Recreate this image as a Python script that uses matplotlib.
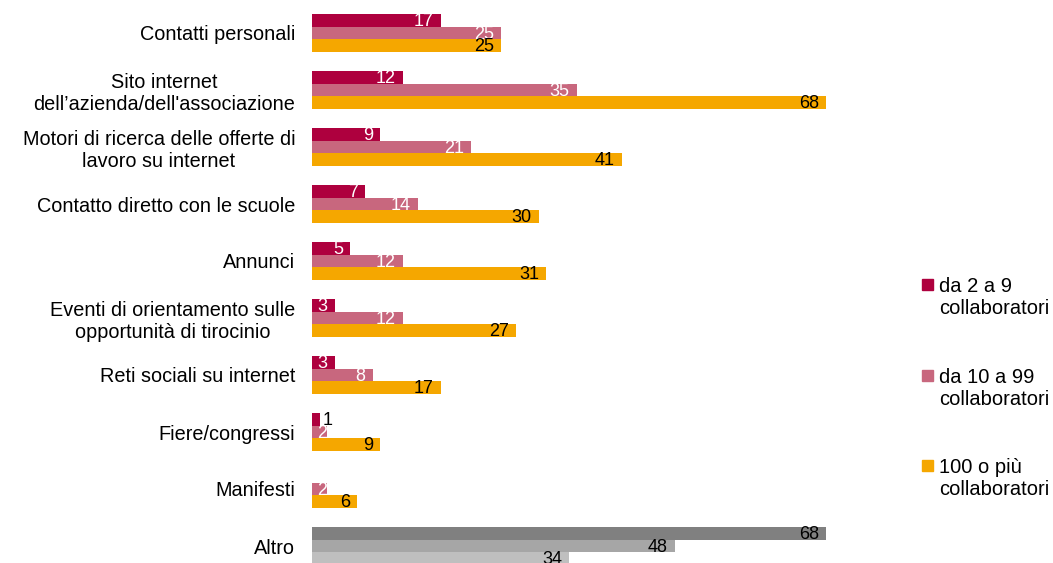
import matplotlib.pyplot as plt
from matplotlib.patches import Rectangle
import numpy as np

plt.rcParams['font.family'] = ['Liberation Sans', 'DejaVu Sans']

categories = [
    'Contatti personali',
    "Sito internet\ndell\u2019azienda/dell'associazione",
    'Motori di ricerca delle offerte di\nlavoro su internet',
    'Contatto diretto con le scuole',
    'Annunci',
    'Eventi di orientamento sulle\nopportunità di tirocinio',
    'Reti sociali su internet',
    'Fiere/congressi',
    'Manifesti',
    'Altro',
]
series_names = ['da 2 a 9\ncollaboratori', 'da 10 a 99\ncollaboratori', '100 o più\ncollaboratori']
small = [17, 12, 9, 7, 5, 3, 3, 1, 0, 68]
medium = [25, 35, 21, 14, 12, 12, 8, 2, 2, 48]
large = [25, 68, 41, 30, 31, 27, 17, 9, 6, 34]

colors = ['#ae003e', '#c8677e', '#f5a700']
altro_colors = ['#808080', '#a6a6a6', '#bfbfbf']
text_colors = ['white', 'white', 'black']

fig = plt.figure(figsize=(10.53, 5.63), dpi=100)
ax = fig.add_axes([312 / 1053, 0, 605 / 1053, 1])

y = np.arange(len(categories))
h = 0.22
for j, vals in enumerate([small, medium, large]):
    yy = y + (j - 1) * h
    cols = [colors[j]] * (len(vals) - 1) + [altro_colors[j]]
    ax.barh(yy, vals, height=h, color=cols)
    for k, (v, yk) in enumerate(zip(vals, yy)):
        if v == 0:
            continue
        tc = 'black' if k == len(vals) - 1 else text_colors[j]
        if v < 2:
            # too small: label sits just outside the bar
            ax.annotate(str(v), (v, yk), xytext=(2, -1), textcoords='offset points',
                        ha='left', va='center', fontsize=13, color='black')
        else:
            dx = -5 if v > 2 else 0
            ax.annotate(str(v), (v, yk), xytext=(dx, -1), textcoords='offset points',
                        ha='right', va='center', fontsize=13, color=tc)

ax.set_xlim(0, 80)
ax.set_ylim((563 - 33) / 57, -33 / 57)
ax.set_yticks(y)
ax.set_yticklabels(categories, fontsize=14.3, multialignment='center')
ax.tick_params(axis='y', length=0, pad=12)
ax.set_xticks([])
for s in ax.spines.values():
    s.set_visible(False)

# legend: square aligned with the first line of each label
leg_top = [279, 370, 460]
for j, name in enumerate(series_names):
    y0 = leg_top[j]
    fig.add_artist(Rectangle((922 / 1053, 1 - (y0 + 11) / 563), 11 / 1053, 11 / 563,
                             transform=fig.transFigure, color=colors[j]))
    fig.text(939 / 1053, 1 - (y0 - 2) / 563, name, fontsize=14.5, ha='left', va='top')

fig.savefig('out.png', dpi=100)
